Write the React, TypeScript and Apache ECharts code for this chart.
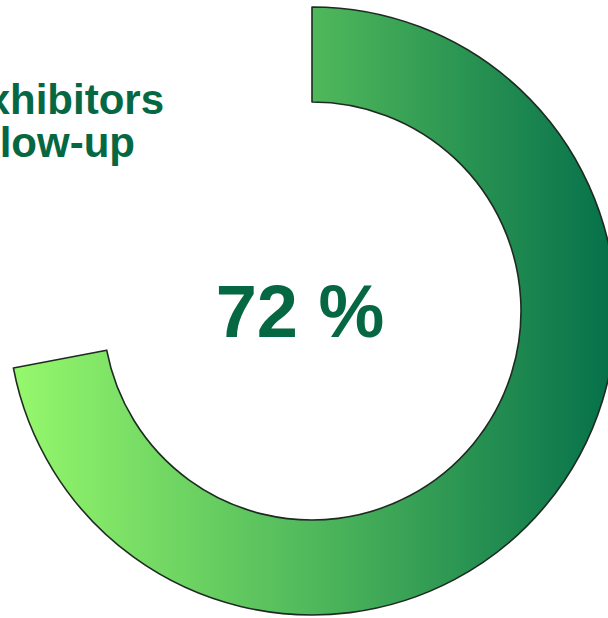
import React, { useEffect, useRef } from "react";
import * as echarts from "echarts";

const categories = ["Exhibitors follow-up", "Remaining"];
const values = [72, 28];
const centerLabel = "72 %";
const titleLines = ["Exhibitors", "Follow-up"];

export default function App() {
  const ref = useRef<HTMLDivElement>(null);
  useEffect(() => {
    if (!ref.current) return;
    const chart = echarts.init(ref.current, null, { renderer: "svg" });
    chart.setOption({
      animation: false,
      backgroundColor: "#ffffff",
      series: [
        {
          type: "pie",
          center: [312, 311],
          radius: [209, 304],
          startAngle: 90,
          clockwise: true,
          silent: true,
          label: { show: false },
          labelLine: { show: false },
          emphasis: { disabled: true },
          data: [
            {
              name: categories[0],
              value: values[0],
              itemStyle: {
                color: new echarts.graphic.LinearGradient(0, 0, 1, 0, [
                  { offset: 0, color: "#96f86c" },
                  { offset: 0.5, color: "#4fb85b" },
                  { offset: 1, color: "#05704a" },
                ]),
                borderColor: "#1e2a22",
                borderWidth: 1.6,
              },
            },
            {
              name: categories[1],
              value: values[1],
              itemStyle: { color: "rgba(0,0,0,0)", borderWidth: 0 },
            },
          ],
        },
      ],
      graphic: [
        {
          type: "text",
          x: 164,
          y: 78,
          style: {
            text: titleLines[0],
            fontFamily: "Liberation Sans, Arial, sans-serif",
            fontWeight: "bold",
            fontSize: 42,
            fill: "#066843",
            align: "right",
            verticalAlign: "top",
          },
        },
        {
          type: "text",
          x: 135,
          y: 121,
          style: {
            text: titleLines[1],
            fontFamily: "Liberation Sans, Arial, sans-serif",
            fontWeight: "bold",
            fontSize: 42,
            fill: "#066843",
            align: "right",
            verticalAlign: "top",
          },
        },
        {
          type: "text",
          x: 300,
          y: 311,
          style: {
            text: centerLabel,
            fontFamily: "Liberation Sans, Arial, sans-serif",
            fontWeight: "bold",
            fontSize: 74,
            fill: "#066843",
            align: "center",
            verticalAlign: "middle",
          },
        },
      ],
    });
    return () => chart.dispose();
  }, []);
  return (
    <div
      ref={ref}
      style={{ position: "fixed", left: 0, top: 0, width: 608, height: 618 }}
    />
  );
}
